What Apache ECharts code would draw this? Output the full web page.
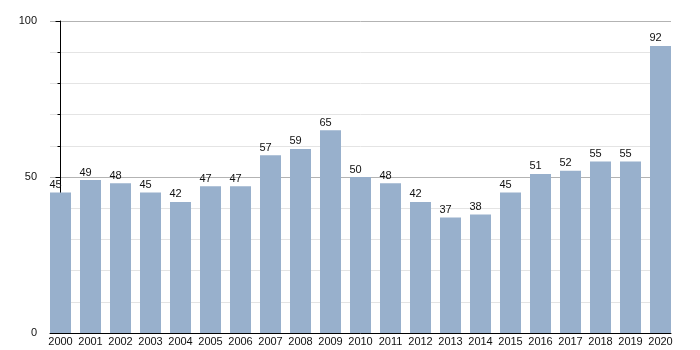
<!DOCTYPE html>
<html>
<head>
<meta charset="utf-8">
<script src="https://cdn.jsdelivr.net/npm/echarts@6/dist/echarts.min.js"></script>
<style>html,body{margin:0;padding:0;background:#fff}#c{width:700px;height:350px}</style>
</head>
<body>
<div id="c"></div>
<script>
const categories = ['2000','2001','2002','2003','2004','2005','2006','2007','2008','2009','2010','2011','2012','2013','2014','2015','2016','2017','2018','2019','2020'];
const values = [45,49,48,45,42,47,47,57,59,65,50,48,42,37,38,45,51,52,55,55,92];
const yTickLabels = [0,50,100];

const font = 'Liberation Sans, Arial, sans-serif';
const chart = echarts.init(document.getElementById('c'), null, {renderer:'canvas'});
chart.setOption({
  animation: false,
  backgroundColor: '#ffffff',
  grid: [
    {left: 50, right: 29, top: 21, bottom: 17},
    {left: 60.5, right: 39.5, top: 21, bottom: 17}
  ],
  xAxis: [
    {
      type: 'value', gridIndex: 0, min: -0.35, max: categories.length - 1 + 0.35,
      axisLine: {show: true, lineStyle: {color: '#000', width: 1}},
      axisTick: {show: false}, axisLabel: {show: false}, splitLine: {show: false}
    },
    {
      type: 'category', gridIndex: 1, data: categories, boundaryGap: false,
      axisLine: {show: false}, axisTick: {show: false},
      axisLabel: {interval: 0, margin: 3, fontSize: 11, color: '#111', fontFamily: font},
      splitLine: {show: false}
    }
  ],
  yAxis: [
    {
      type: 'value', gridIndex: 0, min: 0, max: 100, interval: 50,
      axisLine: {show: true, lineStyle: {color: '#000', width: 1}},
      axisTick: {show: true, length: 5, lineStyle: {color: '#000'}},
      minorTick: {show: true, splitNumber: 5, length: 3, lineStyle: {color: '#000'}},
      axisLabel: {margin: 13, fontSize: 11, color: '#111', fontFamily: font,
        formatter: v => yTickLabels.includes(v) ? String(v) : ''},
      splitLine: {show: true, lineStyle: {color: '#b3b3b3', width: 1}},
      minorSplitLine: {show: true, lineStyle: {color: '#e4e4e4', width: 1}}
    },
    {type: 'value', gridIndex: 1, min: 0, max: 100, show: false}
  ],
  series: [{
    type: 'bar',
    xAxisIndex: 0, yAxisIndex: 0,
    barWidth: 21,
    data: values.map((v, i) => [i, v]),
    itemStyle: {color: '#98b0cc'},
    label: {
      show: true, position: 'top', distance: 2, offset: [-5, 0],
      fontSize: 11, color: '#111', fontFamily: font,
      formatter: p => String(p.value[1])
    }
  }]
});
</script>
</body>
</html>
